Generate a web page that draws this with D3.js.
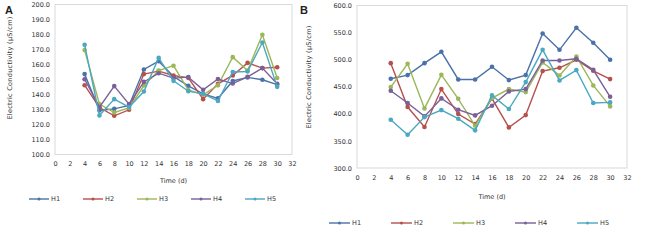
<!DOCTYPE html>
<html>
<head>
<meta charset="utf-8">
<script src="https://cdn.jsdelivr.net/npm/d3@7"></script>
<style>
  body { margin: 0; background: #fff; }
  svg { display: block; font-family: 'DejaVu Sans', sans-serif; }
</style>
</head>
<body>
<svg id="chart" width="650" height="243"></svg>
<script>
const days = [4, 6, 8, 10, 12, 14, 16, 18, 20, 22, 24, 26, 28, 30];
const seriesNames = ['H1', 'H2', 'H3', 'H4', 'H5'];
const xTicks = [0, 2, 4, 6, 8, 10, 12, 14, 16, 18, 20, 22, 24, 26, 28, 30, 32];

// panel A values
const aH1 = [153.6, 129.3, 130.4, 132.7, 156.7, 162.2, 152.0, 145.8, 140.4, 137.4, 149.0, 151.4, 149.8, 146.6];
const aH2 = [146.2, 131.3, 125.8, 129.8, 153.6, 155.6, 152.7, 151.1, 136.9, 147.1, 152.7, 161.1, 157.6, 158.2];
const aH3 = [169.6, 133.6, 128.0, 131.0, 146.0, 156.0, 159.2, 143.0, 139.8, 146.1, 164.9, 156.0, 179.8, 151.0];
const aH4 = [150.2, 131.6, 145.6, 133.6, 148.4, 154.2, 150.9, 151.6, 143.1, 150.3, 147.3, 151.8, 157.6, 147.1];
const aH5 = [173.1, 126.0, 136.9, 131.6, 142.0, 164.4, 149.1, 142.2, 140.4, 135.7, 155.0, 155.3, 174.7, 145.1];

// panel B values
const bH1 = [464.7, 471.5, 493.6, 514.5, 463.5, 463.5, 486.8, 462.3, 471.5, 548.3, 518.2, 558.8, 531.1, 499.8];
const bH2 = [493.6, 412.5, 375.6, 445.7, 399.6, 381.1, 428.0, 375.0, 397.7, 478.9, 485.0, 499.8, 479.5, 464.1];
const bH3 = [449.4, 492.4, 410.0, 472.0, 427.8, 378.0, 429.0, 445.7, 440.1, 494.8, 470.9, 505.9, 452.4, 413.7];
const bH4 = [442.6, 419.9, 395.3, 428.5, 407.6, 397.1, 415.0, 441.4, 445.7, 498.5, 498.5, 501.6, 481.3, 431.5];
const bH5 = [389.1, 361.5, 394.0, 406.9, 391.0, 369.5, 434.0, 408.8, 458.6, 518.2, 461.6, 480.7, 419.9, 421.1];

const aTicks = [100, 110, 120, 130, 140, 150, 160, 170, 180, 190, 200];
const bTicks = [300, 350, 400, 450, 500, 550, 600];

const colors = ['#4a72a8', '#b5504d', '#9bb75a', '#7a5f98', '#4aa8c0'];

const svg = d3.select('#chart');

function drawPanel(cfg) {
  const g = svg.append('g');

  const x = d3.scaleLinear().domain([0, 32]).range([cfg.left, cfg.right]);
  const y = d3.scaleLinear().domain(cfg.yDomain).range([cfg.bottom, cfg.top]);

  // plot frame
  g.append('rect')
    .attr('x', cfg.left).attr('y', cfg.top)
    .attr('width', cfg.right - cfg.left).attr('height', cfg.bottom - cfg.top)
    .attr('fill', 'none').attr('stroke', '#d9d9d9').attr('stroke-width', 1);

  const yAxis = g.append('g')
    .attr('transform', `translate(${cfg.left},0)`)
    .call(d3.axisLeft(y).tickValues(cfg.yTicks).tickSize(0).tickPadding(5).tickFormat(d3.format('.1f')));
  yAxis.select('.domain').remove();
  yAxis.selectAll('text').attr('font-size', 6.5).attr('fill', '#333').style('font-family', 'DejaVu Sans');

  const xAxis = g.append('g')
    .attr('transform', `translate(0,${cfg.bottom})`)
    .call(d3.axisBottom(x).tickValues(xTicks).tickSize(0).tickPadding(cfg.xPad));
  xAxis.select('.domain').remove();
  xAxis.selectAll('text').attr('font-size', 6.5).attr('fill', '#333').style('font-family', 'DejaVu Sans');

  g.append('text')
    .attr('x', x(16)).attr('y', cfg.xTitleY)
    .attr('text-anchor', 'middle').attr('font-size', 6.5).attr('fill', '#333')
    .text('Time (d)');

  g.append('text')
    .attr('transform', `translate(${cfg.yTitleX},${cfg.yTitleY}) rotate(-90)`)
    .attr('text-anchor', 'middle').attr('font-size', 6.5).attr('fill', '#333')
    .attr('letter-spacing', 0.3)
    .text('Electric  Conductivity  (\u03bcS/cm)');

  g.append('text')
    .attr('x', cfg.letterX).attr('y', 14)
    .attr('font-size', 11).attr('font-weight', 'bold').attr('fill', '#222')
    .style('font-family', 'Liberation Sans')
    .text(cfg.letter);

  const line = d3.line().x((d, i) => x(days[i])).y(d => y(d));

  cfg.series.forEach((vals, s) => {
    g.append('path')
      .attr('d', line(vals))
      .attr('fill', 'none')
      .attr('stroke', colors[s])
      .attr('stroke-width', 1.4);
    g.selectAll(null)
      .data(vals)
      .enter()
      .append('circle')
      .attr('cx', (d, i) => x(days[i]))
      .attr('cy', d => y(d))
      .attr('r', 2.3)
      .attr('fill', colors[s]);
  });

  // legend
  seriesNames.forEach((name, s) => {
    const lx = cfg.legendX + s * cfg.legendStep;
    g.append('line')
      .attr('x1', lx).attr('x2', lx + cfg.legendLen)
      .attr('y1', cfg.legendY).attr('y2', cfg.legendY)
      .attr('stroke', colors[s]).attr('stroke-width', 1.4);
    g.append('circle')
      .attr('cx', lx + cfg.legendLen / 2).attr('cy', cfg.legendY)
      .attr('r', 1.5).attr('fill', colors[s]);
    g.append('text')
      .attr('x', lx + cfg.legendLen + 2).attr('y', cfg.legendY + 2.3)
      .attr('font-size', 6.5).attr('fill', '#333')
      .text(name);
  });
}

drawPanel({
  letter: 'A', letterX: 5,
  left: 55, right: 292, top: 4.5, bottom: 154.5,
  yDomain: [100, 200], yTicks: aTicks, xPad: 7,
  xTitleY: 183, yTitleX: 12, yTitleY: 68,
  series: [aH1, aH2, aH3, aH4, aH5],
  legendX: 29, legendStep: 54, legendLen: 20, legendY: 199
});

drawPanel({
  letter: 'B', letterX: 300,
  left: 357, right: 627, top: 5.5, bottom: 168,
  yDomain: [300, 600], yTicks: bTicks, xPad: 7,
  xTitleY: 199, yTitleX: 311, yTitleY: 77,
  series: [bH1, bH2, bH3, bH4, bH5],
  legendX: 329, legendStep: 62, legendLen: 21, legendY: 223
});
</script>
</body>
</html>
